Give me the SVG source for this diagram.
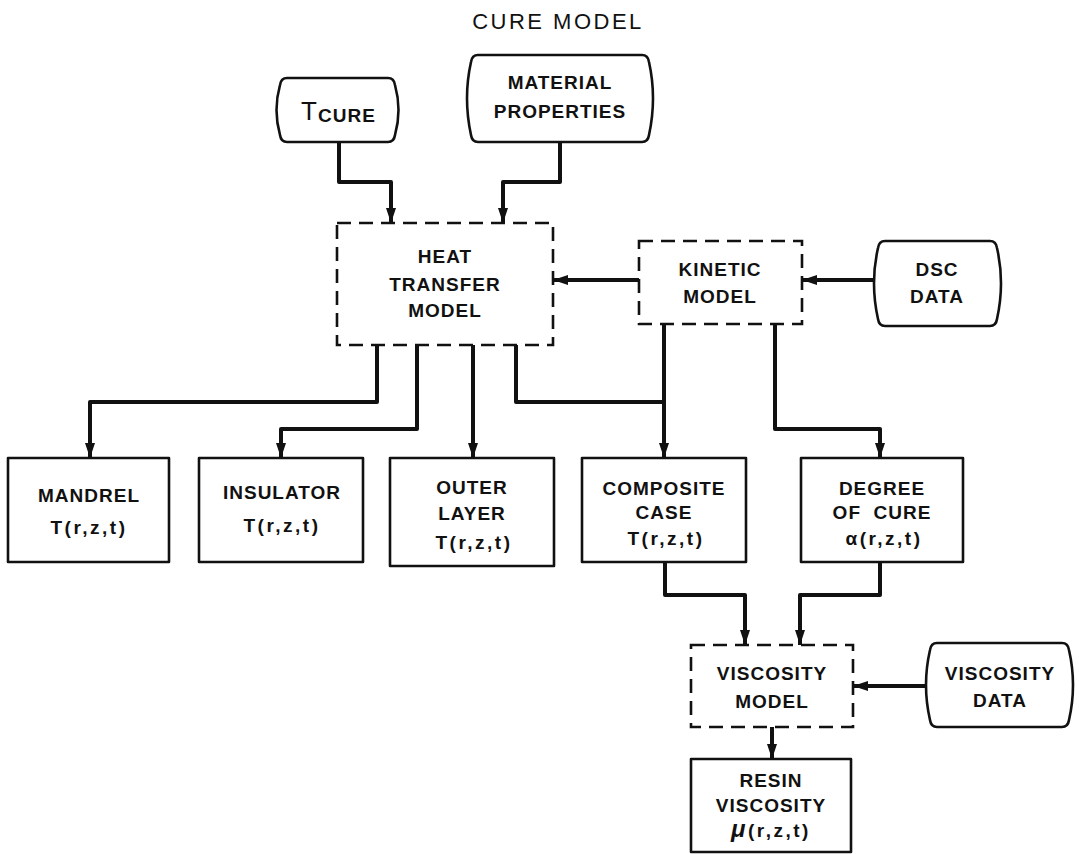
<svg xmlns="http://www.w3.org/2000/svg" width="1079" height="854" viewBox="0 0 1079 854">
<style>
  .box { fill: #fff; stroke: #111; stroke-width: 2.6; stroke-linejoin: round; }
  .dash { fill: #fff; stroke: #111; stroke-width: 2.6; stroke-dasharray: 14 8; }
  .term { fill: #fff; stroke: #111; stroke-width: 2.6; stroke-linejoin: round; }
  .t { font-family: "Liberation Sans", Arial, sans-serif; font-weight: bold; font-size: 19px; fill: #111; text-anchor: middle; letter-spacing: 1px; }
  .f { letter-spacing: 2.5px; }
  .title { font-family: "Liberation Sans", Arial, sans-serif; font-size: 22px; fill: #111; text-anchor: middle; letter-spacing: 2.5px; }
  .c { fill: none; stroke: #111; stroke-width: 4; stroke-linejoin: round; }
</style>
<defs>
  <marker id="ah" markerUnits="userSpaceOnUse" markerWidth="15" markerHeight="10" viewBox="0 0 15 10" refX="15" refY="5" orient="auto">
    <path d="M0,0 L15,5 L0,10 Z" fill="#111"/>
  </marker>
</defs>
<rect width="1079" height="854" fill="#fff"/>
<text class="title" x="558" y="29">CURE MODEL</text>

<g id="connectors">
  <path class="c" d="M339,142 V182 H391 V223" marker-end="url(#ah)"/>
  <path class="c" d="M560,142 V182 H503 V223" marker-end="url(#ah)"/>
  <path class="c" d="M639,280 H553" marker-end="url(#ah)"/>
  <path class="c" d="M875,280 H802" marker-end="url(#ah)"/>
  <path class="c" d="M377,345 V402 H90 V458" marker-end="url(#ah)"/>
  <path class="c" d="M417,345 V429 H281 V458" marker-end="url(#ah)"/>
  <path class="c" d="M473,345 V458" marker-end="url(#ah)"/>
  <path class="c" d="M516,345 V402 H664"/>
  <path class="c" d="M664,324 V458" marker-end="url(#ah)"/>
  <path class="c" d="M775,324 V429 H880 V458" marker-end="url(#ah)"/>
  <path class="c" d="M665,562 V595 H745 V645" marker-end="url(#ah)"/>
  <path class="c" d="M880,562 V595 H800 V645" marker-end="url(#ah)"/>
  <path class="c" d="M927,686 H853" marker-end="url(#ah)"/>
  <path class="c" d="M772,727 V759" marker-end="url(#ah)"/>
</g>

<g id="tcure">
  <path class="term" d="M287,78 H388 Q394,78 395,85 Q402,110 395,135 Q394,142 388,142 H287 Q281,142 280,135 Q273,110 280,85 Q281,78 287,78 Z"/>
  <text x="301" y="120" font-family="Liberation Sans, Arial, sans-serif" font-size="26" fill="#111">T</text>
  <text x="318" y="122" font-family="Liberation Sans, Arial, sans-serif" font-weight="bold" font-size="19" letter-spacing="1" fill="#111">CURE</text>
</g>

<g id="material">
  <path class="term" d="M478,55 H642 Q648,55 649,62 Q657,98 649,135 Q648,142 642,142 H478 Q472,142 471,135 Q463,98 471,62 Q472,55 478,55 Z"/>
  <text class="t" x="560" y="89">MATERIAL</text>
  <text class="t" x="560" y="118">PROPERTIES</text>
</g>

<g id="heat">
  <rect class="dash" x="337" y="223" width="216" height="122"/>
  <text class="t" x="445" y="263">HEAT</text>
  <text class="t" x="445" y="291">TRANSFER</text>
  <text class="t" x="445" y="317">MODEL</text>
</g>

<g id="kinetic">
  <rect class="dash" x="639" y="241" width="163" height="83"/>
  <text class="t" x="720" y="276">KINETIC</text>
  <text class="t" x="720" y="303">MODEL</text>
</g>

<g id="dsc">
  <path class="term" d="M885,241 H990 Q996,241 997,248 Q1005,283 997,319 Q996,326 990,326 H885 Q879,326 878,319 Q870,283 878,248 Q879,241 885,241 Z"/>
  <text class="t" x="937" y="276">DSC</text>
  <text class="t" x="937" y="303">DATA</text>
</g>

<g id="mandrel">
  <rect class="box" x="8" y="458" width="161" height="104"/>
  <text class="t" x="89" y="502">MANDREL</text>
  <text class="t f" x="89" y="534">T(r,z,t)</text>
</g>

<g id="insulator">
  <rect class="box" x="199" y="458" width="164" height="104"/>
  <text class="t" x="282" y="499">INSULATOR</text>
  <text class="t f" x="282" y="532">T(r,z,t)</text>
</g>

<g id="outer">
  <rect class="box" x="390" y="458" width="164" height="108"/>
  <text class="t" x="472" y="494">OUTER</text>
  <text class="t" x="472" y="520">LAYER</text>
  <text class="t f" x="474" y="549">T(r,z,t)</text>
</g>

<g id="composite">
  <rect class="box" x="582" y="458" width="164" height="104"/>
  <text class="t" x="664" y="495">COMPOSITE</text>
  <text class="t" x="664" y="519">CASE</text>
  <text class="t f" x="666" y="545">T(r,z,t)</text>
</g>

<g id="degree">
  <rect class="box" x="801" y="458" width="162" height="104"/>
  <text class="t" x="882" y="495">DEGREE</text>
  <text class="t" x="882" y="519" xml:space="preserve">OF  CURE</text>
  <text class="t f" x="884" y="545">α(r,z,t)</text>
</g>

<g id="viscmodel">
  <rect class="dash" x="691" y="645" width="162" height="82"/>
  <text class="t" x="772" y="680">VISCOSITY</text>
  <text class="t" x="772" y="708">MODEL</text>
</g>

<g id="viscdata">
  <path class="term" d="M937,643 H1062 Q1068,643 1069,650 Q1077,685 1069,720 Q1068,727 1062,727 H937 Q931,727 930,720 Q922,685 930,650 Q931,643 937,643 Z"/>
  <text class="t" x="1000" y="680">VISCOSITY</text>
  <text class="t" x="1000" y="707">DATA</text>
</g>

<g id="resin">
  <rect class="box" x="691" y="759" width="160" height="93"/>
  <text class="t" x="771" y="787">RESIN</text>
  <text class="t" x="771" y="812">VISCOSITY</text>
  <text class="t f" x="771" y="837"><tspan font-style="italic" font-size="24">μ</tspan>(r,z,t)</text>
</g>
</svg>
